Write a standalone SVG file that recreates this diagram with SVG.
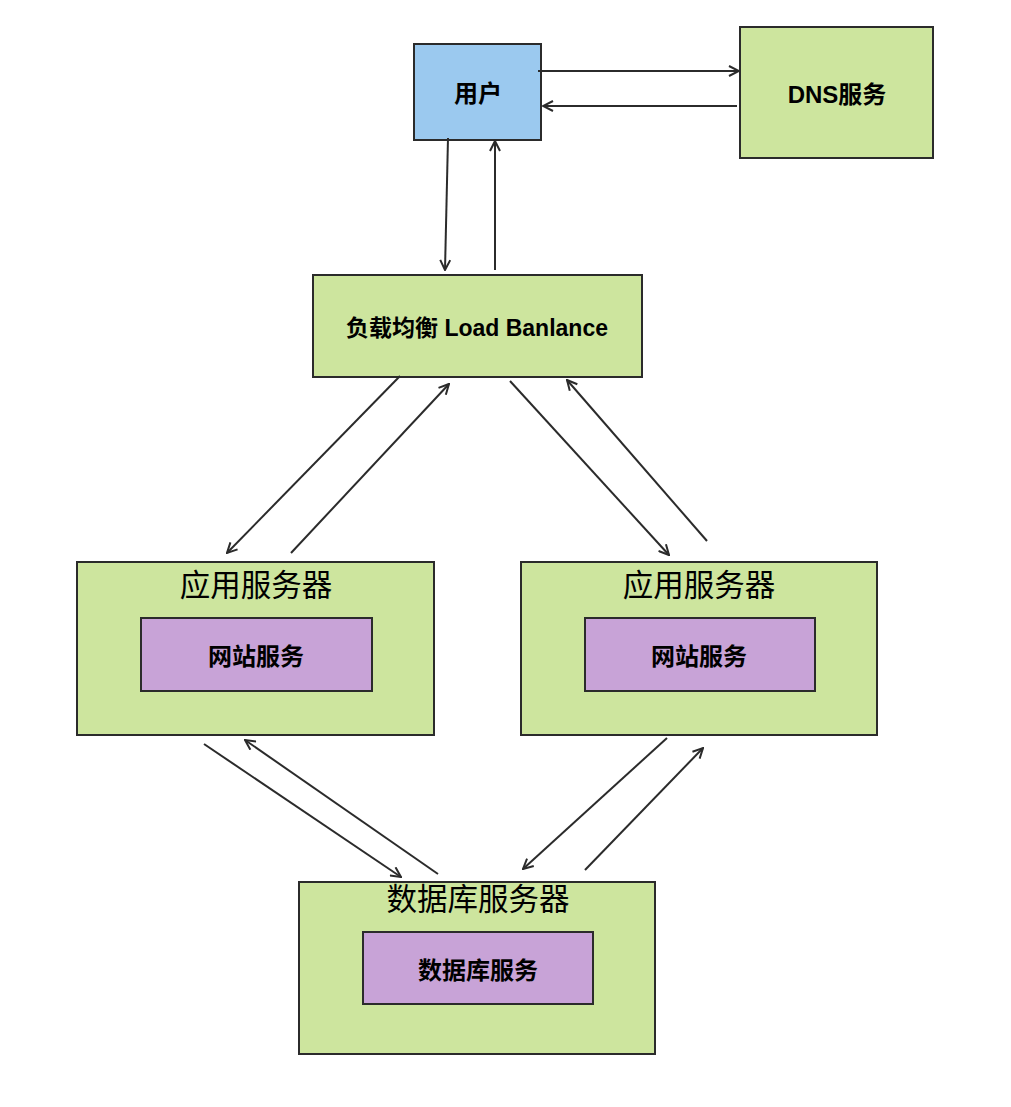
<svg xmlns="http://www.w3.org/2000/svg" width="1011" height="1107" viewBox="0 0 1011 1107">
<style>
.box{stroke:#2b2b2b;stroke-width:2}
.green{fill:#cde59e}
.blue{fill:#9bc9ef}
.purple{fill:#c8a3d7}
.lbl{font-family:"Liberation Sans","Noto Sans CJK SC",sans-serif;font-weight:bold;font-size:24px;fill:#000;text-anchor:middle;dominant-baseline:central}
.title{font-family:"Noto Sans CJK SC","Liberation Sans",sans-serif;font-size:30.5px;fill:#000;text-anchor:middle;dominant-baseline:central}
.conn line{stroke:#2b2b2b;stroke-width:2;fill:none;marker-end:url(#arr)}
</style>
<defs>
<marker id="arr" viewBox="0 0 12 12" refX="11" refY="6" markerWidth="12" markerHeight="12" markerUnits="userSpaceOnUse" orient="auto">
<path d="M1,1 L11,6 L1,11" fill="none" stroke="#2b2b2b" stroke-width="2"/>
</marker>
</defs>
<rect width="1011" height="1107" fill="#fff"/>
<g id="user"><rect class="box blue" x="414" y="44" width="127" height="96"/><text class="lbl" x="478" y="93">用户</text></g>
<g id="dns"><rect class="box green" x="740" y="27" width="193" height="131"/><text class="lbl" x="837" y="94">DNS服务</text></g>
<g id="lb"><rect class="box green" x="313" y="275" width="329" height="102"/><text class="lbl" x="477" y="328" style="font-size:23px">负载均衡 Load Banlance</text></g>
<g id="app1"><rect class="box green" x="77" y="562" width="357" height="173"/><text class="title" x="256" y="583">应用服务器</text>
<g id="web1"><rect class="box purple" x="141" y="618" width="231" height="73"/><text class="lbl" x="256" y="656">网站服务</text></g></g>
<g id="app2"><rect class="box green" x="521" y="562" width="356" height="173"/><text class="title" x="699" y="583">应用服务器</text>
<g id="web2"><rect class="box purple" x="585" y="618" width="230" height="73"/><text class="lbl" x="699" y="656">网站服务</text></g></g>
<g id="db"><rect class="box green" x="299" y="882" width="356" height="172"/><text class="title" x="478" y="897">数据库服务器</text>
<g id="dbsvc"><rect class="box purple" x="363" y="932" width="230" height="72"/><text class="lbl" x="478" y="970">数据库服务</text></g></g>
<g id="connectors" class="conn">
<line x1="538" y1="71" x2="739" y2="71"/>
<line x1="737" y1="106" x2="543" y2="106"/>
<line x1="448" y1="138" x2="445" y2="270"/>
<line x1="495" y1="270" x2="495" y2="141"/>
<line x1="400" y1="376" x2="227" y2="553"/>
<line x1="291" y1="553" x2="449" y2="384"/>
<line x1="510" y1="381" x2="669" y2="555"/>
<line x1="707" y1="541" x2="567" y2="380"/>
<line x1="204" y1="744" x2="401" y2="877"/>
<line x1="438" y1="874" x2="245" y2="740"/>
<line x1="667" y1="738" x2="523" y2="869"/>
<line x1="585" y1="870" x2="703" y2="748"/>
</g>
</svg>
